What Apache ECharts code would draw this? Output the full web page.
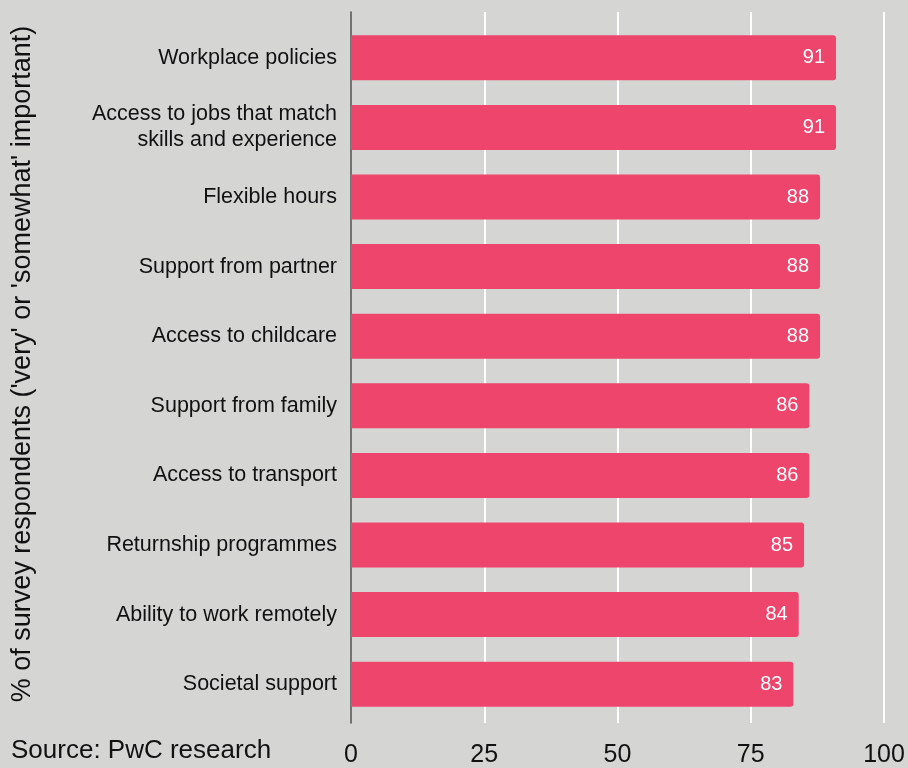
<!DOCTYPE html>
<html>
<head>
<meta charset="utf-8">
<script src="https://cdn.jsdelivr.net/npm/echarts@6/dist/echarts.min.js"></script>
<style>
  html, body { margin: 0; padding: 0; background: #d5d6d4; }
  #chart { width: 908px; height: 768px; }
</style>
</head>
<body>
<div id="chart"></div>
<script>
// Factors rated 'very' or 'somewhat' important, top to bottom
const categories = [
  'Workplace policies',
  'Access to jobs that match\nskills and experience',
  'Flexible hours',
  'Support from partner',
  'Access to childcare',
  'Support from family',
  'Access to transport',
  'Returnship programmes',
  'Ability to work remotely',
  'Societal support'
];
const values = [91, 91, 88, 88, 88, 86, 86, 85, 84, 83];
const xTicks = [0, 25, 50, 75, 100];

const axisTitle = "% of survey respondents ('very' or 'somewhat' important)";
const sourceNote = 'Source: PwC research';

const FONT = '"Liberation Sans", Arial, Helvetica, sans-serif';
const BAR = '#ed456b';

const chart = echarts.init(document.getElementById('chart'), null, { renderer: 'canvas' });

chart.setOption({
  backgroundColor: '#d5d6d4',
  animation: false,
  textStyle: { fontFamily: FONT },
  grid: [
    // bars
    { left: 351, width: 533, top: 23, height: 696, containLabel: false },
    // frame: gridlines, tick labels, vertical axis line
    { left: 351, width: 533, top: 12, height: 711, containLabel: false }
  ],
  xAxis: [
    { gridIndex: 0, type: 'value', min: 0, max: 100, show: false },
    {
      gridIndex: 1, type: 'value', min: 0, max: 100, interval: 25,
      axisLine: { show: false },
      axisTick: { show: false },
      splitLine: { show: true, lineStyle: { color: '#ffffff', width: 2 } },
      axisLabel: {
        margin: 20,
        color: '#111111',
        fontSize: 25,
        fontFamily: FONT,
        formatter: v => xTicks.includes(v) ? String(v) : ''
      }
    }
  ],
  yAxis: [
    {
      gridIndex: 0, type: 'category', data: categories, inverse: true,
      axisLine: { show: false },
      axisTick: { show: false },
      splitLine: { show: false },
      axisLabel: {
        margin: 14,
        color: '#111111',
        fontSize: 21.5,
        lineHeight: 26,
        align: 'right',
        fontFamily: FONT
      }
    },
    {
      gridIndex: 1, type: 'value', min: 0, max: 1,
      axisLine: { show: true, lineStyle: { color: '#444444', width: 1.5 } },
      axisTick: { show: false },
      axisLabel: { show: false },
      splitLine: { show: false }
    }
  ],
  graphic: [
    {
      // vertical axis title, read bottom to top
      type: 'text',
      x: 23,
      y: 364,
      rotation: Math.PI / 2,
      style: {
        text: axisTitle,
        fill: '#111111',
        font: '27px ' + FONT,
        align: 'center',
        verticalAlign: 'middle'
      }
    },
    {
      type: 'text',
      left: 11,
      top: 738,
      style: {
        text: sourceNote,
        fill: '#111111',
        font: '26px ' + FONT
      }
    }
  ],
  series: [
    {
      type: 'bar',
      xAxisIndex: 0,
      yAxisIndex: 0,
      data: values,
      barWidth: 45,
      itemStyle: { color: BAR, borderRadius: [0, 3, 3, 0] },
      label: {
        show: true,
        position: 'insideRight',
        distance: 11,
        color: '#ffffff',
        fontSize: 20,
        fontFamily: FONT
      },
      z: 3
    }
  ]
});
</script>
</body>
</html>
